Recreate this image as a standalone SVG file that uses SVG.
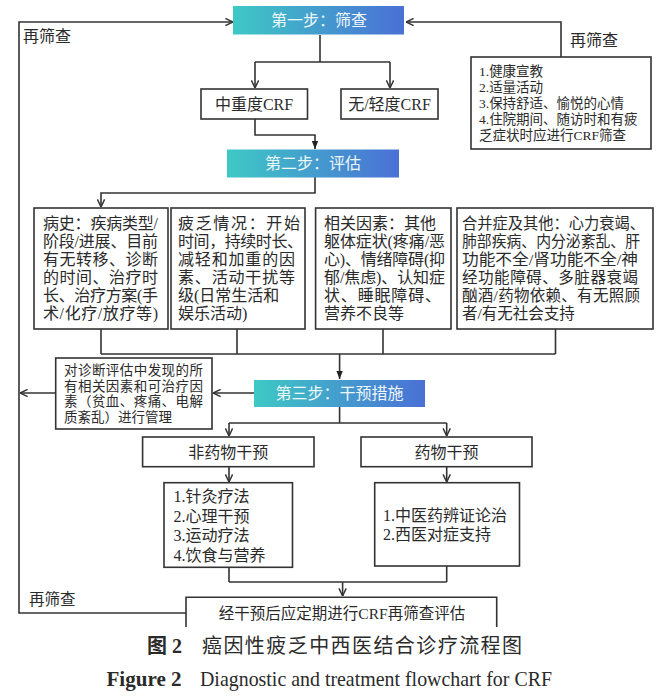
<svg xmlns="http://www.w3.org/2000/svg" width="668" height="697" viewBox="0 0 668 697">
<defs>
<linearGradient id="g" x1="0" y1="0" x2="1" y2="0">
<stop offset="0" stop-color="#3ec9c5"/>
<stop offset="1" stop-color="#4a70d6"/>
</linearGradient>
<marker id="chev" viewBox="0 0 10 10" refX="9.5" refY="5" markerWidth="9" markerHeight="9" markerUnits="userSpaceOnUse" orient="auto">
<path d="M1,1 L9.5,5 L1,9" fill="none" stroke="#333" stroke-width="1.6"/>
</marker>
<marker id="tri" viewBox="0 0 10 10" refX="10" refY="5" markerWidth="8" markerHeight="8" markerUnits="userSpaceOnUse" orient="auto">
<path d="M0,1 L10,5 L0,9 z" fill="#222"/>
</marker>
</defs>
<style>
text{font-family:"Liberation Serif","Noto Sans CJK SC",serif;fill:#2a2a2a}
.box{fill:#fff;stroke:#333;stroke-width:1.6}
.step{fill:url(#g)}
.st{fill:#eef7f8;font-size:16px;text-anchor:middle}
.c{fill:none;stroke:#333;stroke-width:1.6}
.t16{font-size:16px}
.t15{font-size:15.5px}
.t13{font-size:13.5px}
.mid{text-anchor:middle}
</style>
<rect width="668" height="697" fill="#fff"/>

<g id="connectors">
<path class="c" d="M186,613 H19 V22 H233" marker-end="url(#chev)"/>
<path class="c" d="M561,57 V22 H406" marker-end="url(#chev)"/>
<path class="c" d="M320,35 V62 M255,62 H390"/>
<path class="c" d="M255,62 V88" marker-end="url(#chev)"/>
<path class="c" d="M390,62 V88" marker-end="url(#chev)"/>
<path class="c" d="M255,119 V135 H315 V149" marker-end="url(#tri)"/>
<path class="c" d="M315,177 V193 H101 V207" marker-end="url(#chev)"/>
<path class="c" d="M101,329 V354 M237,329 V354 M383,329 V354 M555.5,329 V354 M101,354 H555.5"/>
<path class="c" d="M339.6,354 V379" marker-end="url(#tri)"/>
<path class="c" d="M254,393 H213" marker-end="url(#chev)"/>
<path class="c" d="M55.7,393 H20" marker-end="url(#chev)"/>
<path class="c" d="M339.6,407 V423 M229,423 H446.7"/>
<path class="c" d="M229,423 V436" marker-end="url(#chev)"/>
<path class="c" d="M446.7,423 V436" marker-end="url(#chev)"/>
<path class="c" d="M229,467 V482" marker-end="url(#chev)"/>
<path class="c" d="M446.7,467 V482" marker-end="url(#chev)"/>
<path class="c" d="M229,567 V582 M446.7,566 V582 M229,582 H446.7"/>
<path class="c" d="M342.6,582 V596" marker-end="url(#chev)"/>
</g>

<g id="labels">
<text class="t16" x="23" y="42">再筛查</text>
<text class="t16" x="570" y="46">再筛查</text>
<text class="t15" x="29" y="605">再筛查</text>
</g>

<g id="step1">
<rect class="step" x="233" y="6" width="171" height="28.5"/>
<text class="st" x="319" y="26">第一步：筛查</text>
</g>

<g id="advice">
<rect class="box" x="471" y="57" width="180" height="92"/>
<text class="t13" x="479" y="76">1.健康宣教</text>
<text class="t13" x="479" y="92">2.适量活动</text>
<text class="t13" x="479" y="108">3.保持舒适、愉悦的心情</text>
<text class="t13" x="479" y="124">4.住院期间、随访时和有疲</text>
<text class="t13" x="479" y="140">乏症状时应进行CRF筛查</text>
</g>

<g id="moderate">
<rect class="box" x="201" y="89" width="106.5" height="30"/>
<text class="t16 mid" x="254" y="110">中重度CRF</text>
</g>

<g id="mild">
<rect class="box" x="341" y="89" width="97" height="30"/>
<text class="t16 mid" x="389.5" y="110">无/轻度CRF</text>
</g>

<g id="step2">
<rect class="step" x="227" y="149.5" width="172" height="28"/>
<text class="st" x="313" y="169">第二步：评估</text>
</g>

<g id="history">
<rect class="box" x="34" y="208" width="134" height="121"/>
<text class="t16" x="43" y="228.5" textLength="115" lengthAdjust="spacing">病史：疾病类型/</text>
<text class="t16" x="43" y="246.5" textLength="115" lengthAdjust="spacing">阶段/进展、目前</text>
<text class="t16" x="43" y="264.5" textLength="115" lengthAdjust="spacing">有无转移、诊断</text>
<text class="t16" x="43" y="282.5" textLength="115" lengthAdjust="spacing">的时间、治疗时</text>
<text class="t16" x="43" y="300.5" textLength="115" lengthAdjust="spacing">长、治疗方案(手</text>
<text class="t16" x="43" y="318.5" textLength="115" lengthAdjust="spacing">术/化疗/放疗等)</text>
</g>

<g id="fatigue">
<rect class="box" x="171" y="208" width="134" height="121"/>
<text class="t16" x="178" y="228.5" textLength="122" lengthAdjust="spacing">疲乏情况：开始</text>
<text class="t16" x="178" y="246.5" textLength="125" lengthAdjust="spacing">时间，持续时长、</text>
<text class="t16" x="178" y="264.5" textLength="117" lengthAdjust="spacing">减轻和加重的因</text>
<text class="t16" x="178" y="282.5" textLength="117" lengthAdjust="spacing">素、活动干扰等</text>
<text class="t16" x="178" y="300.5">级(日常生活和</text>
<text class="t16" x="178" y="318.5">娱乐活动)</text>
</g>

<g id="factors">
<rect class="box" x="315.6" y="208" width="135.4" height="121"/>
<text class="t16" x="324" y="228.5">相关因素：其他</text>
<text class="t16" x="324" y="246.5" textLength="121" lengthAdjust="spacing">躯体症状(疼痛/恶</text>
<text class="t16" x="324" y="264.5" textLength="121" lengthAdjust="spacing">心)、情绪障碍(抑</text>
<text class="t16" x="324" y="282.5" textLength="121" lengthAdjust="spacing">郁/焦虑)、认知症</text>
<text class="t16" x="324" y="300.5" textLength="117" lengthAdjust="spacing">状、睡眠障碍、</text>
<text class="t16" x="324" y="318.5">营养不良等</text>
</g>

<g id="comorbid">
<rect class="box" x="457" y="208" width="196" height="121"/>
<text class="t15" x="462" y="228.5" textLength="183" lengthAdjust="spacingAndGlyphs">合并症及其他：心力衰竭、</text>
<text class="t15" x="462" y="246.5" textLength="178" lengthAdjust="spacingAndGlyphs">肺部疾病、内分泌紊乱、肝</text>
<text class="t15" x="462" y="264.5" textLength="176" lengthAdjust="spacingAndGlyphs">功能不全/肾功能不全/神</text>
<text class="t15" x="462" y="282.5" textLength="176" lengthAdjust="spacing">经功能障碍、多脏器衰竭</text>
<text class="t15" x="462" y="300.5" textLength="178" lengthAdjust="spacing">酗酒/药物依赖、有无照顾</text>
<text class="t15" x="462" y="318.5">者/有无社会支持</text>
</g>

<g id="manage">
<rect class="box" x="55.7" y="358" width="156.3" height="71"/>
<text class="t13" x="64" y="375" textLength="139" lengthAdjust="spacing">对诊断评估中发现的所</text>
<text class="t13" x="64" y="390.5" textLength="139" lengthAdjust="spacing">有相关因素和可治疗因</text>
<text class="t13" x="64" y="406" textLength="139" lengthAdjust="spacing">素（贫血、疼痛、电解</text>
<text class="t13" x="64" y="421.5">质紊乱）进行管理</text>
</g>

<g id="step3">
<rect class="step" x="254" y="380" width="171" height="27"/>
<text class="st" x="339.5" y="399">第三步：干预措施</text>
</g>

<g id="nondrug">
<rect class="box" x="142.6" y="437" width="171.4" height="29.7"/>
<text class="t16 mid" x="228.3" y="458">非药物干预</text>
</g>

<g id="drug">
<rect class="box" x="361" y="437" width="171" height="29.7"/>
<text class="t16 mid" x="446.5" y="458">药物干预</text>
</g>

<g id="nondrug-list">
<rect class="box" x="164" y="482.7" width="128.5" height="84.6"/>
<text class="t16" x="173.5" y="502">1.针灸疗法</text>
<text class="t16" x="173.5" y="521.5">2.心理干预</text>
<text class="t16" x="173.5" y="541">3.运动疗法</text>
<text class="t16" x="173.5" y="560.5">4.饮食与营养</text>
</g>

<g id="drug-list">
<rect class="box" x="374.7" y="482.7" width="144.8" height="83.3"/>
<text class="t16" x="383" y="520.5">1.中医药辨证论治</text>
<text class="t16" x="383" y="539.5">2.西医对症支持</text>
</g>

<g id="rescreen">
<path d="M186,627 V597.3 H496.7 V627" fill="#fff" stroke="#333" stroke-width="1.6"/>
<text class="t15 mid" x="342" y="618.5">经干预后应定期进行CRF再筛查评估</text>
</g>

<g id="caption">
<text x="147" y="653" font-size="20" font-weight="bold" fill="#111">图 2</text>
<text x="202" y="653" font-size="20" textLength="320" lengthAdjust="spacing" fill="#111">癌因性疲乏中西医结合诊疗流程图</text>
<text x="106.5" y="686" font-size="21" font-weight="bold" textLength="75" lengthAdjust="spacingAndGlyphs" fill="#111">Figure 2</text>
<text x="200" y="686" font-size="21" textLength="352" lengthAdjust="spacingAndGlyphs" fill="#111">Diagnostic and treatment flowchart for CRF</text>
</g>
</svg>
